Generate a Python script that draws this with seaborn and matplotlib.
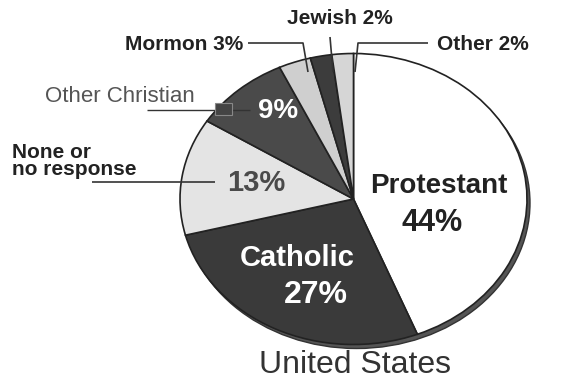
import matplotlib
matplotlib.use("Agg")
import matplotlib.pyplot as plt
import seaborn as sns
from matplotlib.patches import Ellipse, Rectangle

sns.set_theme(style="white")
plt.rcParams['font.family'] = ['Liberation Sans', 'DejaVu Sans']

categories = ["Protestant", "Catholic", "None or\nno response", "Other Christian",
              "Mormon", "Jewish", "Other"]
values = [44, 27, 13, 9, 3, 2, 2]
colors = ["#ffffff", "#3a3a3a", "#e4e4e4", "#4a4a4a", "#cfcfcf", "#3c3c3c", "#d6d6d6"]
title = "United States"

W, H = 581, 385
fig = plt.figure(figsize=(W / 100, H / 100), dpi=100)
ax = fig.add_axes([0, 0, 1, 1])

# pixel -> data mapping (unit circle drawn as ellipse)
CX, CY, RX, RY = 353.5, 199.0, 173.5, 145.5
def P(px, py):
    return ((px - CX) / RX, (CY - py) / RY)

# 3D rim / shadow
ax.add_patch(Ellipse((3 / RX, -4 / RY), 2, 2, facecolor="#555555",
                     edgecolor="#333333", lw=1, zorder=0))

wedges, _ = ax.pie(values, colors=colors, startangle=90, counterclock=False,
                   radius=1.0, wedgeprops=dict(edgecolor="#222222", linewidth=1.2))
for w in wedges:
    w.set_zorder(1)

ax.set_aspect("auto")
x0, y0 = P(0, H)
x1, y1 = P(W, 0)
ax.set_xlim(x0, x1)
ax.set_ylim(y0, y1)
ax.axis("off")

def T(px, py, s, **kw):
    x, y = P(px, py)
    ax.text(x, y, s, zorder=5, **kw)

def L(pts, **kw):
    xs, ys = zip(*[P(a, b) for a, b in pts])
    ax.plot(xs, ys, color=kw.pop("color", "#333333"), lw=kw.pop("lw", 1.2), zorder=4,
            solid_capstyle="butt", **kw)

# inside labels
T(439, 186, "Protestant", ha="center", va="center", fontsize=20, fontweight="bold", color="#222222")
T(432, 223, "44%", ha="center", va="center", fontsize=22, fontweight="bold", color="#222222")
T(297, 258, "Catholic", ha="center", va="center", fontsize=21, fontweight="bold", color="#ffffff")
T(316, 295, "27%", ha="center", va="center", fontsize=23, fontweight="bold", color="#ffffff")
T(256, 183, "13%", ha="center", va="center", fontsize=21, fontweight="bold", color="#4a4a4a")
T(278, 111, "9%", ha="center", va="center", fontsize=20, fontweight="bold", color="#ffffff")

# outside labels
T(243, 44, "Mormon 3%", ha="right", va="center", fontsize=15, fontweight="bold", color="#222222")
L([(248, 43), (303, 43), (308, 72)])
T(340, 18, "Jewish 2%", ha="center", va="center", fontsize=15, fontweight="bold", color="#222222")
L([(330, 37), (333, 72)])
T(437, 44, "Other 2%", ha="left", va="center", fontsize=15, fontweight="bold", color="#222222")
L([(428, 43), (358, 43), (355, 72)])

T(45, 97, "Other Christian", ha="left", va="center", fontsize=16, color="#555555")
L([(147, 110), (250, 110)], lw=1.0)
rx, ry = P(215, 115)
rx2, ry2 = P(232, 103)
ax.add_patch(Rectangle((rx, ry), rx2 - rx, ry2 - ry, facecolor="#444444",
                       edgecolor="#888888", lw=0.8, zorder=4))

T(12, 161, "None or\nno response", ha="left", va="center", fontsize=15, fontweight="bold",
  color="#222222", linespacing=0.85)
L([(92, 182), (215, 182)])

T(355, 365, title, ha="center", va="center", fontsize=23, color="#333333")

fig.savefig("out.png", dpi=100, facecolor="white")
